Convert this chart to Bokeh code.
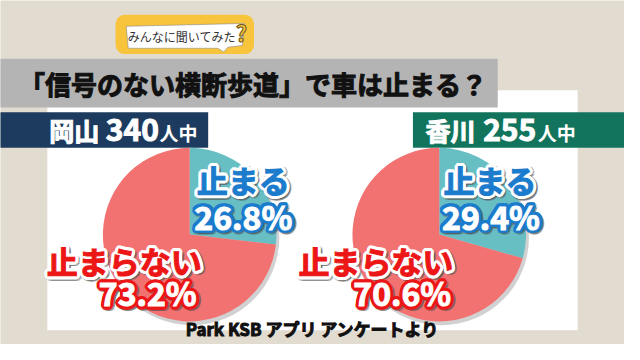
import numpy as np
from bokeh.plotting import figure
from bokeh.models import Range1d, ColumnDataSource
from bokeh.core.properties import value
from bokeh.embed import file_html
from bokeh.resources import INLINE

# ---------------- data ----------------
title_text = "「信号のない横断歩道」で車は止まる？"
badge_text = "みんなに聞いてみた"
regions = ["岡山", "香川"]
respondents = ["340", "255"]
unit_text = "人中"
categories = ["止まる", "止まらない"]
stop_pct = [26.8, 29.4]
nostop_pct = [73.2, 70.6]
source_note = "Park KSB アプリ アンケートより"

# ---------------- layout helpers ----------------
W, H = 640, 360
def Y(v):
    return H - v

FONT = value("Noto Sans CJK JP")
BG = "#e2dbcf"
TEAL = "#67bfc4"
SALMON = "#f27272"
BLUE = "#1b7bcc"
RED = "#ec1616"

p = figure(width=624, height=344, x_range=Range1d(0, W), y_range=Range1d(0, H),
           x_axis_type=None, y_axis_type=None, output_backend="svg",
           toolbar_location=None, min_border=0)
p.grid.visible = False
p.outline_line_color = None
p.background_fill_color = BG
p.border_fill_color = BG


def outlined(x, y, txt, size, fill, outline, width=3.0, shadow=True, align="center"):
    ang = np.linspace(0, 2 * np.pi, 16, endpoint=False)
    if shadow:
        sx = list(x + 1.5 + (width + 1.0) * np.cos(ang))
        sy = list(y - 1.5 + (width + 1.0) * np.sin(ang))
        p.text(x=sx, y=sy, text=[txt] * len(sx), text_font=FONT, text_font_style="bold",
               text_font_size=size, text_color="#555555", text_alpha=0.35,
               text_baseline="middle", text_align=align)
    ox = list(x + width * np.cos(ang))
    oy = list(y + width * np.sin(ang))
    p.text(x=ox, y=oy, text=[txt] * len(ox), text_font=FONT, text_font_style="bold",
           text_font_size=size, text_color=outline, text_outline_color=outline,
           text_baseline="middle", text_align=align)
    p.text(x=[x], y=[y], text=[txt], text_font=FONT, text_font_style="bold",
           text_font_size=size, text_color=fill, text_outline_color=fill,
           text_baseline="middle", text_align=align)


# white panel
p.quad(left=[48], right=[592], top=[Y(94)], bottom=[Y(345)], fill_color="white", line_color=None)

# gray title bar
p.quad(left=[-10], right=[510], top=[Y(61)], bottom=[Y(112)], fill_color="#b4b4b4", line_color=None)
p.text(x=[19], y=[Y(87)], text=[title_text], text_font=FONT, text_font_style="bold",
       text_font_size="26px", text_color="#111111", text_outline_color="#111111",
       text_baseline="middle", text_align="left")

# yellow badge
p.quad(left=[118], right=[260], top=[Y(15)], bottom=[Y(56)], fill_color="#f8c43c",
       line_color=None, border_radius=9)
bx = [129, 250, 248, 233, 229, 223, 131]
by = [Y(27), Y(24), Y(47), Y(49), Y(54), Y(50), Y(50)]
p.patch(bx, by, fill_color="white", line_color="#8a8a8a", line_width=0.6)
p.text(x=[186], y=[Y(38)], text=[badge_text], text_font=FONT, text_font_size="12px",
       text_color="#333333", text_baseline="middle", text_align="center")
p.text(x=[247], y=[Y(33)], text=["?"], text_font=FONT, text_font_style="bold",
       text_font_size="22px", text_color="#f8c43c", text_outline_color="#6b5420",
       text_baseline="middle", text_align="center")

# region label bars
p.quad(left=[-10], right=[213], top=[Y(117)], bottom=[Y(154)], fill_color="#1c3b5e", line_color=None)
p.quad(left=[423], right=[650], top=[Y(117)], bottom=[Y(154)], fill_color="#12745c", line_color=None)

name_x = [50, 436]
num_x = [108, 495]
unit_x = [163, 551]
for i in range(2):
    p.text(x=[name_x[i]], y=[Y(136)], text=[regions[i]], text_font=FONT, text_font_style="bold",
           text_font_size="25px", text_color="white", text_outline_color="white",
           text_baseline="middle", text_align="left")
    p.text(x=[num_x[i]], y=[Y(136)], text=[respondents[i]], text_font=FONT, text_font_style="bold",
           text_font_size="30px", text_color="white", text_outline_color="white",
           text_baseline="middle", text_align="left")
    p.text(x=[unit_x[i]], y=[Y(138)], text=[unit_text], text_font=FONT, text_font_style="bold",
           text_font_size="19px", text_color="white", text_baseline="middle", text_align="left")

# pies
cx = [194, 450]
cy = [Y(245), Y(245)]
R = 89
for i in range(2):
    p.circle(x=[cx[i] + 2], y=[cy[i] - 3], radius=R + 1, fill_color="#7a7a7a", fill_alpha=0.35, line_color=None)
    frac = np.array([stop_pct[i], nostop_pct[i]]) / 100.0
    ends = np.pi / 2 - np.cumsum(frac) * 2 * np.pi
    starts = np.pi / 2 - np.concatenate([[0.0], np.cumsum(frac)[:-1]]) * 2 * np.pi
    src = ColumnDataSource(dict(start=ends, end=starts, color=[TEAL, SALMON]))
    p.wedge(x=cx[i], y=cy[i], radius=R, start_angle="start", end_angle="end",
            fill_color="color", line_color=None, source=src)

# labels
stop_x = [249, 502]
stop_pct_x = [249, 503]
no_x = [127, 385]
no_pct_x = [151, 412]
for i in range(2):
    outlined(stop_x[i], Y(187), categories[0], "31px", BLUE, "white")
    outlined(stop_pct_x[i], Y(225), f"{stop_pct[i]:.1f}%", "32px", "white", BLUE)
    outlined(no_x[i], Y(272), categories[1], "31px", RED, "white")
    outlined(no_pct_x[i], Y(305), f"{nostop_pct[i]:.1f}%", "32px", "white", RED)

# footer
p.text(x=[320], y=[Y(343)], text=[source_note], text_font=FONT, text_font_style="bold",
       text_font_size="17px", text_color="#111111", text_outline_color="#111111",
       text_baseline="middle", text_align="center")

open("out.html", "w").write(file_html(p, INLINE))
